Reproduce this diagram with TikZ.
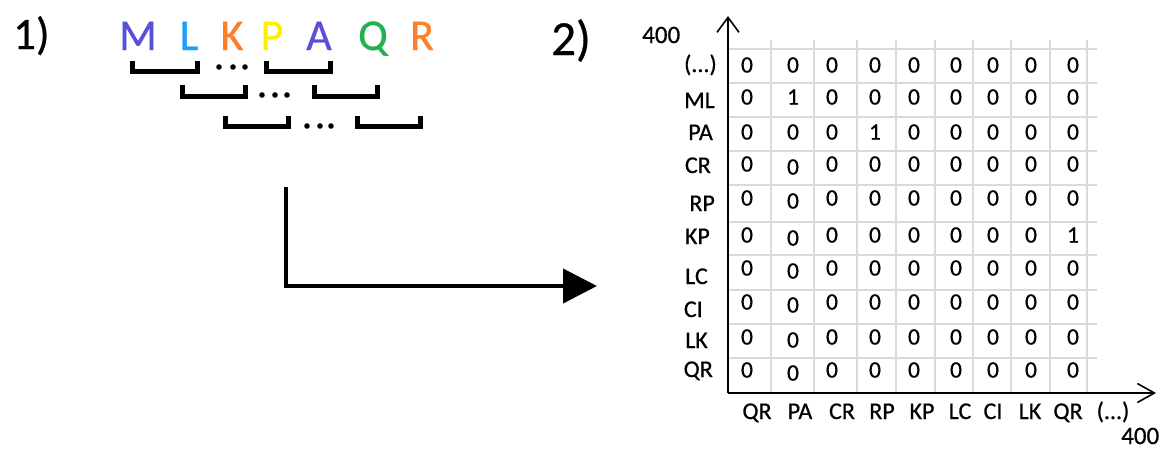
\documentclass[tikz,border=0pt]{standalone}
\usepackage{fontspec}
\setmainfont[FakeBold=0.6]{Carlito}
\usetikzlibrary{arrows.meta}
\newcommand\fsz[1]{\fontsize{#1}{#1}\selectfont}
\definecolor{cIndigo}{HTML}{5850D8}
\definecolor{cTurq}{HTML}{1E9EF5}
\definecolor{cOrange}{HTML}{FF7F27}
\definecolor{cYellow}{HTML}{FFEE00}
\definecolor{cGreen}{HTML}{22B14C}
\definecolor{cGrid}{HTML}{D9D9D9}
\tikzset{
  bigletter/.style={inner sep=0pt, anchor=base, font=\fsz{44}},
  bracketline/.style={draw=black, line width=5pt, line join=miter},
  bdot/.style={circle, fill=black, inner sep=0pt, minimum size=5.6pt},
  gridline/.style={draw=cGrid, line width=1.8pt},
  axisline/.style={draw=black, line width=1.8pt},
  cellval/.style={inner sep=0pt, font=\fsz{23.5}},
  rowlab/.style={inner sep=0pt, anchor=base east, font=\fsz{24}},
  collab/.style={inner sep=0pt, anchor=base, font=\fsz{24}},
  numlab/.style={inner sep=0pt, font=\fsz{25}},
  partlab/.style={inner sep=0pt, anchor=base west},
}
\begin{document}
\begin{tikzpicture}[x=1pt,y=-1pt]
\useasboundingbox (0,0) rectangle (1167,448);
% part labels
\node[partlab, font=\fsz{45}] (p1) at (13,49) {1)};
\node[partlab, font=\fsz{49}] (p2) at (551,55) {2)};
% sequence letters
\node[bigletter, text=cIndigo] (lM) at (138,50) {M};
\node[bigletter, text=cTurq]   (lL) at (189,50) {L};
\node[bigletter, text=cOrange] (lK) at (232,50) {K};
\node[bigletter, text=cYellow] (lP) at (272,50) {P};
\node[bigletter, text=cIndigo] (lA) at (319,50) {A};
\node[bigletter, text=cGreen]  (lQ) at (373,50) {Q};
\node[bigletter, text=cOrange] (lR) at (422,50) {R};
% brackets
\foreach \xa/\xb/\yt/\yb in {132/197/61/71, 266/330/61/71,
                              182/245/85/96, 314/377/85/96,
                              225/288/116/126, 357/420/116/126}
  \draw[bracketline] (\xa,\yt) -- (\xa,\yb) -- (\xb,\yb) -- (\xb,\yt);
\foreach \x/\y [count=\i] in {219/67,233/67,245/67,262/95,275/95,287/95,307/126,320/126,331/126}
  \node[bdot] (dot\i) at (\x,\y) {};
% big arrow
\coordinate (arrA) at (286,187);
\coordinate (arrB) at (597,286);
\draw[line width=4.2pt, -{Triangle[length=34pt,width=34pt]}] (arrA) |- (arrB);
% grid
\foreach \y in {49,83,117,151,185,222,255,290,324,358}
  \draw[gridline] (728,\y) -- (1097,\y);
\foreach \x in {771,814,857,896,935,973,1011,1050,1087}
  \draw[gridline] (\x,40) -- (\x,393);
% axes
\coordinate (origin) at (728,393);
\coordinate (ytip) at (728,16);
\coordinate (xtip) at (1156,393);
\draw[axisline, -{Straight Barb[length=15pt,width=22pt,line width=1.6pt]}] (origin) -- (ytip);
\draw[axisline, -{Straight Barb[length=17pt,width=19pt,line width=1.6pt]}] (origin) -- (xtip);
\node[numlab, anchor=base west] (ymax) at (642,43) {400};
\node[numlab, anchor=base west] (xmax) at (1121,444) {400};
% row labels
\node[rowlab] (r1) at (717,72) {(...)};
\node[rowlab] (r2) at (715,108) {ML};
\node[rowlab] (r3) at (713,140) {PA};
\node[rowlab] (r4) at (711,173) {CR};
\node[rowlab] (r5) at (715,211) {RP};
\node[rowlab] (r6) at (710,244) {KP};
\node[rowlab] (r7) at (708,284) {LC};
\node[rowlab] (r8) at (703,317) {CI};
\node[rowlab] (r9) at (708,348) {LK};
\node[rowlab] (r10) at (713,377) {QR};
% column labels
\foreach \x/\t [count=\i] in {757/QR,800/PA,842/CR,882/RP,922/KP,960/LC,993/CI,1030/LK,1068/QR}
  \node[collab] (c\i) at (\x,419) {\t};
\node[collab] (c10) at (1113,419) {(...)};
% cell values
\foreach \r/\y in {1/65,2/97,3/132,4/164,5/198,6/235,7/268,8/302,9/337,10/370}
  \foreach \c/\x in {1/747,2/793,3/832,4/875,5/914,6/956,7/993,8/1031,9/1073} {
    \pgfmathtruncatemacro\v{((\r==2)&&(\c==2))||((\r==3)&&(\c==4))||((\r==6)&&(\c==9))}
    \pgfmathsetmacro\dy{((\c==2)&&(\r>3))?3:0}
    \node[cellval] (v-\r-\c) at (\x,\y+\dy) {\v};
  }
\end{tikzpicture}
\end{document}
